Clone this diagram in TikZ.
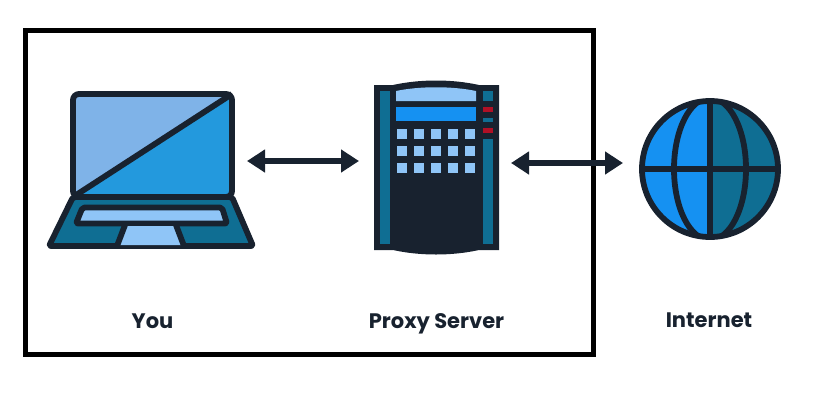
\documentclass[tikz,border=0pt]{standalone}
\usepackage{fontspec}
\setmainfont{Poppins}[BoldFont={Poppins Bold}]
\usetikzlibrary{arrows.meta}

\definecolor{ink}{HTML}{18222F}
\definecolor{sky}{HTML}{8FC5F7}
\definecolor{paleblue}{HTML}{7FB3E8}
\definecolor{midblue}{HTML}{2399DD}
\definecolor{brightblue}{HTML}{1591F2}
\definecolor{teal}{HTML}{0F6E93}
\definecolor{alert}{HTML}{B01025}

\tikzset{
  outline/.style={draw=ink, line width=5.8pt, line join=round},
  link/.style={draw=ink, line width=5.4pt, {Triangle[length=18pt,width=22pt]}-{Triangle[length=18pt,width=22pt]}},
  iconbox/.style={inner sep=0pt, outer sep=0pt, minimum height=150pt},
  caption/.style={text=ink, font=\bfseries\fontsize{21}{24}\selectfont, inner sep=0pt, anchor=base}
}

\begin{document}
\begin{tikzpicture}[x=1pt, y=-1pt]
  \useasboundingbox (0,0) rectangle (826,418);

  % Cajas invisibles de los iconos
  \node[iconbox, minimum width=196pt] (laptop) at (149,161) {};
  \node[iconbox, minimum width=152pt] (proxy) at (435,161) {};
  \node[iconbox, minimum width=174pt] (internet) at (710,163) {};

  % Marco
  \draw[black, line width=5pt] (25.5,30) rectangle (593,354);

  % Pantalla del portatil
  \fill[paleblue] (73,197) -- (73,94) -- (232,94) -- cycle;
  \fill[midblue] (73,197) -- (232,94) -- (232,197) -- cycle;
  \draw[outline, rounded corners=6pt] (73,197) -- (73,94) -- (232,94) -- (232,197) -- cycle;
  \draw[outline] (73,197) -- (232,94);

  % Base del portatil
  \draw[outline, fill=teal, rounded corners=2pt] (73,197) -- (232,197) -- (253,246) -- (49,246) -- cycle;
  \draw[outline, fill=sky, rounded corners=2pt] (82.5,207.5) -- (222,207.5) -- (227,223.5) -- (76,223.5) -- cycle;
  \fill[sky] (125,225) -- (176,225) -- (184,245) -- (117,245) -- cycle;
  \draw[outline] (125,225) -- (117,246);
  \draw[outline] (176,225) -- (184,246);
  \draw[outline] (76,223.5) -- (227,223.5);

  % Cuerpo del servidor
  \fill[ink] (374,85) -- (393,85) .. controls (420,79) and (452,79) .. (479,85) -- (499,85)
    -- (499,250) -- (479,250) .. controls (452,256) and (420,256) .. (393,250) -- (374,250) -- cycle;
  \fill[sky] (396,91) .. controls (420,86) and (452,86) .. (476,91) -- (476,101) -- (396,101) -- cycle;
  \fill[brightblue] (396,107) rectangle (476,121);
  \fill[teal] (380,91) rectangle (390,244);

  % Columna derecha
  \fill[teal] (483,91) rectangle (493,101);
  \fill[alert] (483,107) rectangle (493,112);
  \fill[teal] (483,118) rectangle (493,122);
  \fill[alert] (483,128) rectangle (493,133);
  \fill[teal] (483,139) rectangle (493,244);

  % Teclas
  \foreach \kx in {397,414,431,448,465}
    \foreach \ky in {129,146,163}
      \fill[sky] (\kx,\ky) rectangle (\kx+10,\ky+10);

  % Globo
  \def\gx{710}
  \def\gy{169}
  \def\gr{68}
  \fill[brightblue] (\gx,\gy-\gr) arc[start angle=-90, end angle=-270, radius=\gr];
  \fill[teal] (\gx,\gy-\gr) arc[start angle=-90, end angle=90, radius=\gr];
  \begin{scope}
    \clip (\gx,\gy) circle [radius=\gr];
    \draw[outline] (\gx,\gy) ellipse [x radius=36, y radius=71];
  \end{scope}
  \draw[outline] (\gx,\gy-\gr) -- (\gx,\gy+\gr);
  \draw[outline] (\gx-\gr,\gy) -- (\gx+\gr,\gy);
  \draw[outline] (\gx,\gy) circle [radius=\gr];

  % Flechas
  \draw[link] (laptop.east) -- (laptop.east -| proxy.west);
  \draw[link] (proxy.east |- internet.west) -- (internet.west);

  % Etiquetas
  \node[caption] (youlabel) at (152.5,328) {You};
  \node[caption] (proxylabel) at (436.5,328) {Proxy Server};
  \node[caption] (internetlabel) at (709,327) {Internet};
\end{tikzpicture}
\end{document}
